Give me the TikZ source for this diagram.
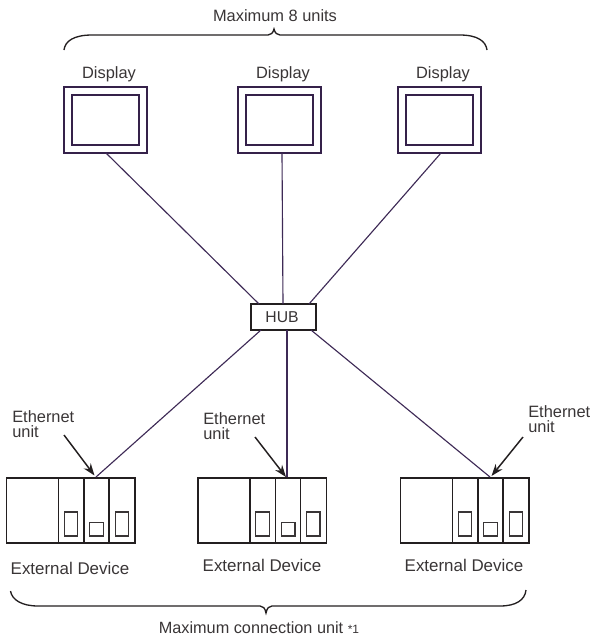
\documentclass[tikz,border=0pt]{standalone}
\usepackage{fontspec}
\setmainfont{Liberation Sans}
\usetikzlibrary{arrows.meta}
\definecolor{wire}{HTML}{3E2A56}
\definecolor{frame}{HTML}{35214A}
\definecolor{ink}{HTML}{231F20}
\tikzset{
  lab/.style={font=\fontsize{12.3}{11.2}\selectfont,text=ink!90,inner sep=0pt,align=left},
  extlab/.style={lab,font=\fontsize{12.7}{11.2}\selectfont},
  wireline/.style={draw=wire,line width=0.85pt},
  outerbox/.style={draw=frame,line width=1.7pt,fill=white},
  innerbox/.style={draw=frame,line width=1.3pt,fill=white},
  devline/.style={draw=ink,line width=1.1pt},
  smallbox/.style={draw=ink!90,line width=0.9pt},
  ptr/.style={draw=ink,line width=1.1pt,-{Stealth[length=9pt,width=6.5pt]}},
  bracket/.style={draw=ink,line width=1pt},
  hubbox/.style={draw=ink,line width=1.1pt,fill=white,minimum width=48.75pt,minimum height=19.5pt,inner sep=0pt}
}
\newcommand{\dispunit}[3]{%
  \path[outerbox] (#1,87) rectangle (#1+83,153);
  \path[innerbox] (#1+8,95) rectangle (#1+75,145);
  \coordinate (#2) at (#3,153);
}
\newcommand{\devunit}[3]{%
  \path[devline] (#1,478) rectangle (#1+128.5,543);
  \path[devline] (#1+52,478) -- (#1+52,543) (#1+77.5,478) -- (#1+77.5,543) (#1+102.7,478) -- (#1+102.7,543);
  \path[smallbox] (#1+57.7,512) rectangle (#1+71.3,536);
  \path[smallbox] (#1+83.3,522.7) rectangle (#1+97,536);
  \path[smallbox] (#1+108.7,512) rectangle (#1+122,536);
  \coordinate (#2) at (#3,477);
}
\begin{document}
\begin{tikzpicture}[x=0.75pt,y=-0.75pt]
\useasboundingbox (0,0) rectangle (593,636);
\node[hubbox] (hub) at (283.5,317) {};
\node[lab,font=\fontsize{11.8}{11.8}\selectfont] (hublabel) at (282,317) {HUB};
\coordinate (h1) at (259,304);
\coordinate (h2) at (283,304);
\coordinate (h3) at (309,304);
\coordinate (h4) at (261,330);
\coordinate (h5) at (287,330);
\coordinate (h6) at (311,330);
\dispunit{64}{d1}{106}
\dispunit{238}{d2}{282}
\dispunit{398}{d3}{441}
\devunit{6.5}{u1}{96}
\devunit{198}{u2}{287}
\devunit{400.5}{u3}{490}
\draw[wireline] (d1) -- (h1);
\draw[wireline] (d2) -- (h2);
\draw[wireline] (d3) -- (h3);
\draw[wireline] (h4) -- (u1);
\draw[wireline] (h5) -- (u2);
\draw[wireline] (h6) -- (u3);
\node[lab] (t1) at (109,74) {Display};
\node[lab] (t2) at (283,74) {Display};
\node[lab] (t3) at (443,74) {Display};
\node[lab] (top) at (275,16) {Maximum 8 units};
\node[lab,anchor=west] (e1) at (12,424.5) {Ethernet\\unit};
\node[lab,anchor=west] (e2) at (203,426.5) {Ethernet\\unit};
\node[lab,anchor=west] (e3) at (528,419) {Ethernet\\unit};
\coordinate (p1) at (64,435);
\coordinate (p2) at (255,437);
\coordinate (p3) at (523,437);
\coordinate (a1) at (94.5,475.5);
\coordinate (a2) at (286,477);
\coordinate (a3) at (491.5,476);
\draw[ptr] (p1) -- (a1);
\draw[ptr] (p2) -- (a2);
\draw[ptr] (p3) -- (a3);
\node[extlab] (x1) at (70,568) {External Device};
\node[extlab] (x2) at (262,565) {External Device};
\node[extlab] (x3) at (464,565) {External Device};
\node[lab,font=\fontsize{12.2}{11.2}\selectfont] (bot) at (259,627.5) {Maximum connection unit {\fontsize{9}{9}\selectfont *1}};
\coordinate (ta) at (64,50);
\coordinate (tb) at (487,50);
\coordinate (ba) at (10.5,591);
\coordinate (bb) at (526,590);
\draw[bracket] (ta) .. controls (65,41) and (74,35) .. (92,35) -- (268,35) .. controls (271,35) and (273,33) .. (274,29) .. controls (275,33) and (277,35) .. (280,35) -- (460,35) .. controls (477,35) and (486,41) .. (tb);
\draw[bracket] (ba) .. controls (12,600) and (22,606) .. (38,606) -- (260,606) .. controls (263,606) and (265,608) .. (266,613) .. controls (267,608) and (269,606) .. (272,606) -- (500,606) .. controls (516,606) and (525,600) .. (bb);
\end{tikzpicture}
\end{document}
